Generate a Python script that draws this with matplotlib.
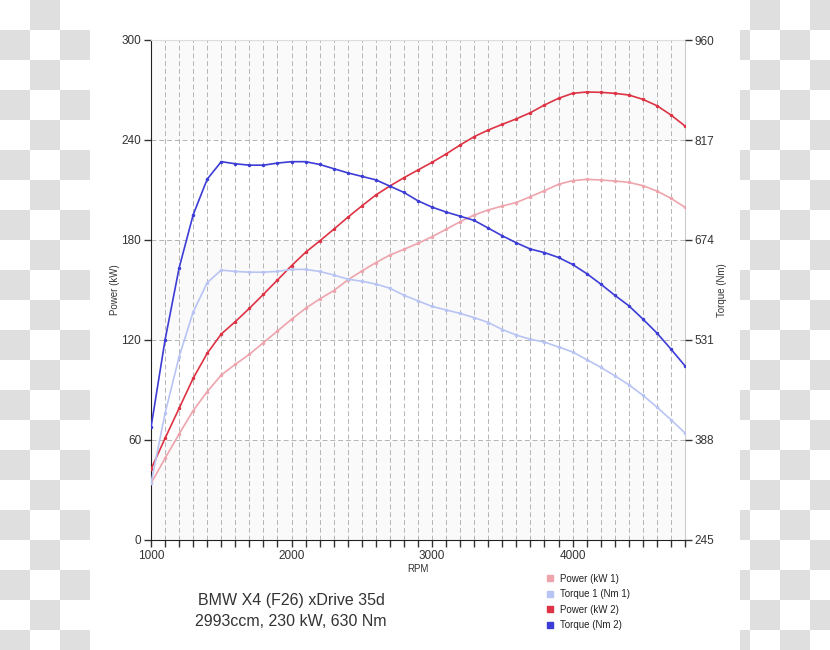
import numpy as np
import matplotlib
matplotlib.use("Agg")
import matplotlib.pyplot as plt
from matplotlib.lines import Line2D

plt.rcParams['font.family'] = ['Liberation Sans', 'DejaVu Sans']

# Data: RPM every 100 from 1000 to 4800
rpm = np.arange(1000, 4900, 100)

power1 = [34, 49, 63.6, 77.6, 89, 99, 105.4, 111.4, 118.4, 125.4, 132.4, 139, 144.6, 149.6,
          156, 161.4, 166.4, 171, 174.4, 178, 182, 186.4, 191, 195, 198, 200.4, 202.5,
          206, 209.6, 213.4, 215.6, 216.4, 216, 215.4, 214.6, 212.6, 209.4, 205, 199.6]
torque1 = [326, 426, 507, 571, 613, 631, 629, 628, 628, 629, 632, 632, 629, 624,
           618, 615, 611, 605, 595, 587, 579, 574, 569, 563, 556, 546, 538,
           532, 528, 521, 514, 503, 492, 480, 467, 452, 435, 417, 398]
power2 = [42.4, 61, 79, 97, 112, 123.6, 131, 139, 147.4, 156, 164.6, 172.6, 179.4, 186.4,
          193.6, 200.4, 207, 212.4, 217.4, 222, 226.6, 231.6, 237, 242, 246, 249.4, 252.7,
          256.4, 261, 265, 268, 268.8, 268.6, 268, 267, 264.4, 260.6, 255, 248.4]
torque2 = [406, 531, 634, 710, 761, 786, 783, 781, 781, 784, 786, 786, 782, 776,
           770, 765, 760, 751, 742, 730, 721, 714, 708, 702, 691, 680, 670,
           661, 656, 649, 639, 626, 611, 595, 580, 561, 541, 518, 494]

labels = ['Power (kW 1)', 'Torque 1 (Nm 1)', 'Power (kW 2)', 'Torque (Nm 2)']
colors = ['#eea4ac', '#b8c4f4', '#dd3344', '#3c3cd6']

W, H = 830, 650
fig = plt.figure(figsize=(W / 100, H / 100), dpi=100)

# checkerboard (transparency pattern) on the outer edges
img = np.ones((H, W, 3))
yy, xx = np.mgrid[0:H, 0:W]
checker = ((xx // 30 + yy // 30) % 2 == 1) & ((xx < 90) | (xx >= 740))
img[checker] = 0.878
fig.figimage(img, 0, 0, origin='upper', zorder=-5)

ax = fig.add_axes([151 / W, 110 / H, 534 / W, 500 / H])
ax.set_zorder(1)
ax.set_facecolor('white')
for lo in [0, 120, 240]:
    ax.axhspan(lo, lo + 60, color='#fafafa', zorder=0, lw=0)

ax.set_xlim(1000, 4800)
ax.set_ylim(0, 300)
ax.set_yticks([0, 60, 120, 180, 240, 300])
ax.set_xticks(rpm)
ax.set_xticklabels([str(r) if r % 1000 == 0 else '' for r in rpm])
ax.tick_params(axis='both', direction='out', length=5, width=1, color='#333333',
               labelsize=8.5, labelcolor='#333333', pad=2)

for r in rpm[1:]:
    ax.axvline(r, color='#b4b4b4', lw=0.7, ls=(0, (5, 3)), zorder=1)
for v in [60, 120, 180, 240]:
    ax.axhline(v, color='#b4b4b4', lw=0.7, ls=(0, (5, 3)), zorder=1)

ax.spines['left'].set_color('#222222')
ax.spines['bottom'].set_color('#222222')
ax.spines['top'].set_color('#dddddd')
ax.spines['right'].set_color('#cccccc')

ax.set_xlabel('RPM', fontsize=7, color='#333333', labelpad=2)
ax.set_ylabel('Power (kW)', fontsize=7, color='#333333', labelpad=1)

ax2 = ax.twinx()
ax2.set_zorder(2)
ax2.set_ylim(245, 960)
ax2.set_yticks([245, 388, 531, 674, 817, 960])
ax2.tick_params(axis='y', direction='out', length=5, width=1, color='#333333',
                labelsize=8.5, labelcolor='#333333', pad=2)
for s in ax2.spines.values():
    s.set_visible(False)
ax2.set_ylabel('Torque (Nm)', fontsize=7, color='#333333', labelpad=2)

ax.plot(rpm, power1, color=colors[0], lw=1.2, marker='o', ms=1.5, zorder=3)
ax2.plot(rpm, torque1, color=colors[1], lw=1.2, marker='o', ms=1.5, zorder=3)
ax.plot(rpm, power2, color=colors[2], lw=1.2, marker='o', ms=1.5, zorder=4)
ax2.plot(rpm, torque2, color=colors[3], lw=1.2, marker='o', ms=1.5, zorder=4)

handles = [Line2D([], [], ls='none', marker='s', ms=4, color=c) for c in colors]
fig.legend(handles, labels, loc='upper left', bbox_to_anchor=(541 / W, 1 - 570 / H),
           frameon=False, fontsize=7, handletextpad=0.6, labelspacing=0.55,
           handlelength=1.0, borderaxespad=0, labelcolor='#222222')

fig.text(291 / W, 1 - 601 / H, 'BMW X4 (F26) xDrive 35d', ha='center', va='center',
         fontsize=11.5, color='#333333')
fig.text(291 / W, 1 - 622 / H, '2993ccm, 230 kW, 630 Nm', ha='center', va='center',
         fontsize=11.5, color='#333333')

fig.savefig('out.png', dpi=100)
